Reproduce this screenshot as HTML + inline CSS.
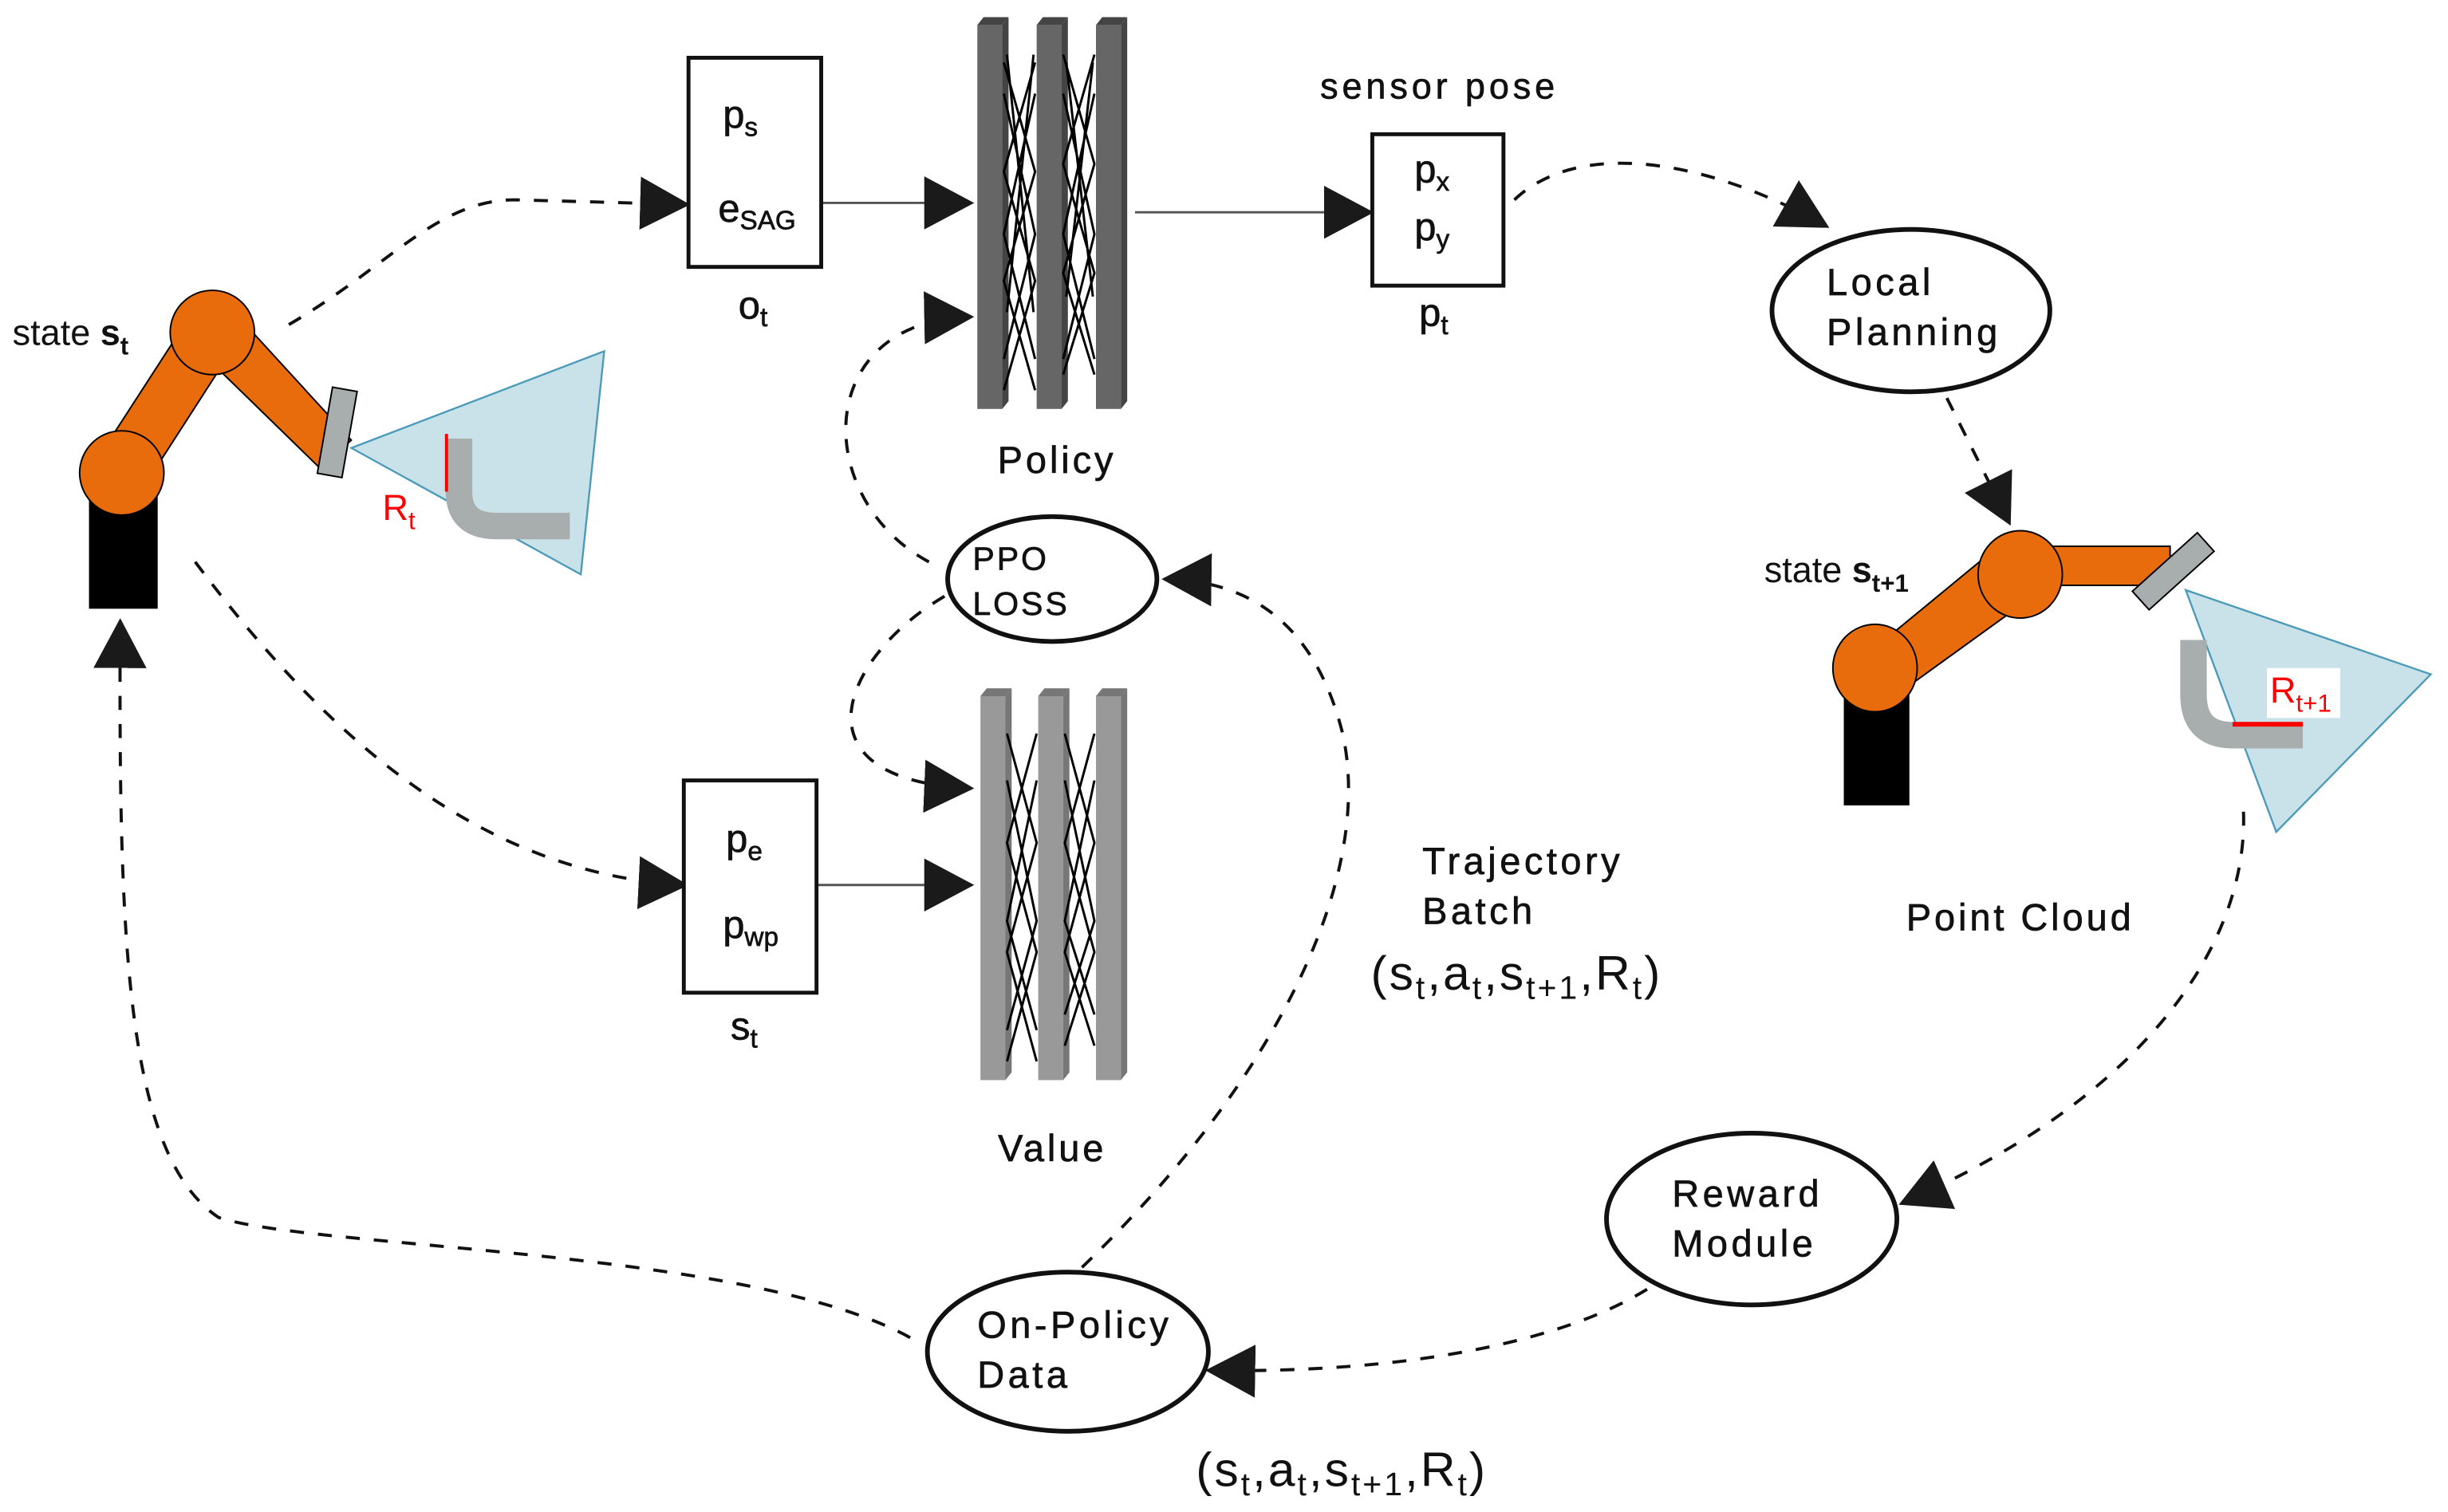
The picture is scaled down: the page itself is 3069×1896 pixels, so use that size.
<!DOCTYPE html>
<html><head><meta charset="utf-8"><style>
html,body{margin:0;padding:0;background:#fff}
svg{display:block}
text{font-family:"Liberation Sans",sans-serif;fill:#111;stroke:#111;stroke-width:0.35}
</style></head><body>
<svg width="3069" height="1896" viewBox="0 0 1568 968.7" xmlns="http://www.w3.org/2000/svg">
<defs>
<marker id="ah" markerWidth="32" markerHeight="34" refX="30" refY="17" orient="auto" markerUnits="userSpaceOnUse">
<path d="M0,0 L32,17 L0,34 Z" fill="#1a1a1a"/>
</marker>
</defs>
<g fill="none" stroke="#111" stroke-width="2" stroke-dasharray="9,9">
<path d="M185,208 C250,170 280,128 330,128 L440,131" marker-end="url(#ah)"/>
<path d="M970,128 C1010,90 1090,100 1170,145" marker-end="url(#ah)"/>
<path d="M1247,255 L1287,335" marker-end="url(#ah)"/>
<path d="M595,360 C520,320 520,205 622,203" marker-end="url(#ah)"/>
<path d="M605,382 C540,420 505,500 622,505" marker-end="url(#ah)"/>
<path d="M125,360 C200,460 300,560 439,567" marker-end="url(#ah)"/>
<path d="M693,812 C820,690 880,560 860,470 C845,410 810,372 746,371" marker-end="url(#ah)"/>
<path d="M1437,520 C1440,600 1380,700 1218,771" marker-end="url(#ah)"/>
<path d="M1055,826 C1000,860 900,880 774,878" marker-end="url(#ah)"/>
<path d="M583,857 C480,800 200,800 140,780 C80,740 76,600 77,398" marker-end="url(#ah)"/>
</g>
<g stroke="#555" stroke-width="1.5" fill="none">
<path d="M526,130 L622,130" marker-end="url(#ah)"/>
<path d="M727,136 L878,136" marker-end="url(#ah)"/>
<path d="M523,567 L622,567" marker-end="url(#ah)"/>
</g>
<!-- robot 1 -->
<rect x="57" y="300" width="44" height="90" fill="#000"/>
<g stroke="#000" stroke-width="1">
<path d="M65,290 L120,205 L150,222 L92,312 Z" fill="#e86c0c"/>
<path d="M125,222 L150,200 L225,282 L205,300 Z" fill="#e86c0c"/>
<circle cx="78" cy="303" r="27" fill="#e86c0c"/>
<circle cx="136" cy="213" r="27" fill="#e86c0c"/>
<rect x="-8" y="-28" width="16" height="56" fill="#a8adad" transform="translate(216,277) rotate(10)"/>
</g>
<path d="M225,287 L387,225 L372,368 Z" fill="#c9e1e8" stroke="#4a9ab8" stroke-width="1.2"/>
<path d="M294,281 L294,315 Q294,337 318,337 L365,337" fill="none" stroke="#a8adad" stroke-width="17"/>
<line x1="286" y1="278" x2="286" y2="315" stroke="red" stroke-width="2"/>
<text x="245" y="333" font-size="23" style="fill:red;stroke:none">R<tspan font-size="16" dy="6">t</tspan></text>
<text x="8" y="221" font-size="23" style="stroke:none">state <tspan font-weight="bold">s</tspan><tspan font-size="16" dy="6" font-weight="bold">t</tspan></text>
<!-- robot 2 -->
<rect x="1181" y="440" width="42" height="76" fill="#000"/>
<g stroke="#000" stroke-width="1">
<path d="M1195,420 L1280,350 L1305,380 L1215,445 Z" fill="#e86c0c"/>
<rect x="1294" y="350" width="96" height="25" fill="#e86c0c"/>
<ellipse cx="1201" cy="428" rx="27" ry="28" fill="#e86c0c"/>
<ellipse cx="1294" cy="368" rx="27" ry="28" fill="#e86c0c"/>
<rect x="-8" y="-28" width="16" height="56" fill="#a8adad" transform="translate(1392,366) rotate(48)"/>
</g>
<path d="M1400,378 L1557,432 L1458,533 Z" fill="#c9e1e8" stroke="#4a9ab8" stroke-width="1.2"/>
<path d="M1405,410 L1405,445 Q1405,471 1430,471 L1475,471" fill="none" stroke="#a8adad" stroke-width="17"/>
<line x1="1430" y1="464" x2="1475" y2="464" stroke="red" stroke-width="3"/>
<rect x="1452" y="428" width="47" height="32" fill="#fff"/>
<text x="1454" y="450" font-size="23" style="fill:red;stroke:none">R<tspan font-size="16" dy="6">t+1</tspan></text>
<text x="1130" y="373" font-size="23" style="stroke:none">state <tspan font-weight="bold">s</tspan><tspan font-size="16" dy="6" font-weight="bold">t+1</tspan></text>
<text x="1294" y="596" font-size="24" text-anchor="middle" letter-spacing="2">Point Cloud</text>
<!-- policy layers -->
<g fill="#666">
<rect x="626" y="16" width="16" height="246"/><rect x="664" y="16" width="16" height="246"/><rect x="702" y="16" width="16" height="246"/>
</g>
<g fill="#444">
<path d="M626,16 L630,11 L646,11 L642,16 Z"/><path d="M664,16 L668,11 L684,11 L680,16 Z"/><path d="M702,16 L706,11 L722,11 L718,16 Z"/>
<path d="M642,16 L646,11 L646,257 L642,262Z"/><path d="M680,16 L684,11 L684,257 L680,262Z"/><path d="M718,16 L722,11 L722,257 L718,262Z"/>
</g>
<g stroke="#000" stroke-width="1.5" fill="none">
<path d="M643,40 L663,110 L643,180 L663,250 M663,40 L643,110 L663,180 L643,250 M643,60 L663,150 L643,230 M663,60 L643,150 L663,230 M645,35 L662,200 M662,35 L645,200"/>
<path d="M681,35 L701,105 L681,175 L701,240 M701,35 L681,105 L701,175 L681,240 M681,60 L701,150 L681,230 M701,60 L681,150 L701,230 M683,40 L700,190 M700,40 L683,190"/>
</g>
<!-- value layers -->
<g fill="#999">
<rect x="628" y="446" width="16" height="246"/><rect x="665" y="446" width="16" height="246"/><rect x="702" y="446" width="16" height="246"/>
</g>
<g fill="#777">
<path d="M628,446 L632,441 L648,441 L644,446Z"/><path d="M665,446 L669,441 L685,441 L681,446Z"/><path d="M702,446 L706,441 L722,441 L718,446Z"/>
<path d="M644,446 L648,441 L648,687 L644,692Z"/><path d="M681,446 L685,441 L685,687 L681,692Z"/><path d="M718,446 L722,441 L722,687 L718,692Z"/>
</g>
<g stroke="#000" stroke-width="1.5" fill="none">
<path d="M645,470 L664,540 L645,610 L664,680 M664,470 L645,540 L664,610 L645,680 M645,500 L664,590 L645,660 M664,500 L645,590 L664,660"/>
<path d="M682,470 L701,540 L682,610 L701,670 M701,470 L682,540 L701,610 L682,670 M682,500 L701,590 L682,650 M701,500 L682,590 L701,650"/>
</g>
<text x="677" y="303" font-size="24" text-anchor="middle" letter-spacing="2">Policy</text>
<text x="674" y="744" font-size="24" text-anchor="middle" letter-spacing="2">Value</text>
<!-- boxes -->
<rect x="441" y="37" width="85" height="134" fill="#fff" stroke="#111" stroke-width="2.5"/>
<text x="463" y="82" font-size="25">p<tspan font-size="17" dy="5">s</tspan></text>
<text x="460" y="142" font-size="25">e<tspan font-size="17" dy="5">SAG</tspan></text>
<text x="473" y="204" font-size="25">o<tspan font-size="17" dy="5">t</tspan></text>
<rect x="879" y="86" width="84" height="97" fill="#fff" stroke="#111" stroke-width="2.5"/>
<text x="906" y="117" font-size="25">p<tspan font-size="17" dy="5">x</tspan></text>
<text x="906" y="154" font-size="25">p<tspan font-size="17" dy="5">y</tspan></text>
<text x="909" y="209" font-size="25">p<tspan font-size="17" dy="5">t</tspan></text>
<text x="922" y="63" font-size="23" text-anchor="middle" letter-spacing="2.5">sensor pose</text>
<rect x="438" y="500" width="85" height="136" fill="#fff" stroke="#111" stroke-width="2.5"/>
<text x="465" y="546" font-size="25">p<tspan font-size="17" dy="5">e</tspan></text>
<text x="463" y="601" font-size="25">p<tspan font-size="17" dy="5">wp</tspan></text>
<text x="468" y="666" font-size="25">s<tspan font-size="17" dy="5">t</tspan></text>
<!-- ellipses -->
<g fill="#fff" stroke="#111" stroke-width="3">
<ellipse cx="1224" cy="199" rx="89" ry="52"/>
<ellipse cx="674" cy="371" rx="67" ry="40"/>
<ellipse cx="1122" cy="781" rx="93" ry="55"/>
<ellipse cx="684" cy="866" rx="90" ry="51"/>
</g>
<g font-size="24" letter-spacing="2.3">
<text x="1170" y="189">Local</text><text x="1170" y="221">Planning</text>
<text x="623" y="365" font-size="21" letter-spacing="1.5">PPO</text><text x="623" y="394" font-size="21" letter-spacing="1.5">LOSS</text>
<text x="1071" y="773">Reward</text><text x="1071" y="805">Module</text>
<text x="626" y="857">On-Policy</text><text x="626" y="889">Data</text>
<text x="911" y="560">Trajectory</text><text x="911" y="592">Batch</text>
</g>
<text x="878" y="634" font-size="31" letter-spacing="1.5" style="stroke:none">(s<tspan font-size="21" dy="6">t</tspan><tspan dy="-6">,a</tspan><tspan font-size="21" dy="6">t</tspan><tspan dy="-6">,s</tspan><tspan font-size="21" dy="6">t+1</tspan><tspan dy="-6">,R</tspan><tspan font-size="21" dy="6">t</tspan><tspan dy="-6">)</tspan></text>
<text x="766" y="952" font-size="31" letter-spacing="1.5" style="stroke:none">(s<tspan font-size="21" dy="6">t</tspan><tspan dy="-6">,a</tspan><tspan font-size="21" dy="6">t</tspan><tspan dy="-6">,s</tspan><tspan font-size="21" dy="6">t+1</tspan><tspan dy="-6">,R</tspan><tspan font-size="21" dy="6">t</tspan><tspan dy="-6">)</tspan></text>
</svg>
</body></html>
